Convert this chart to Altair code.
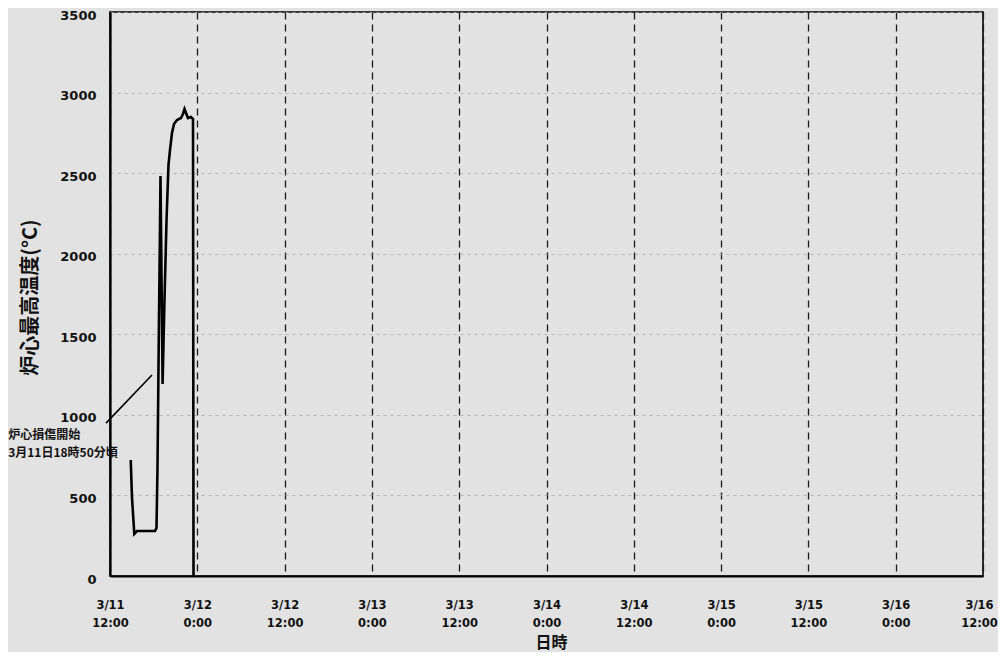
import json
import altair as alt
import pandas as pd

# Hours after 3/11 12:00 and core maximum temperature (°C)
hours = [2.85, 3.02, 3.34, 3.71, 4.95, 6.19, 6.39, 6.53, 6.74, 6.87, 6.94,
         7.23, 7.49, 7.77, 8.04, 8.25, 8.52, 8.80, 9.21, 9.76, 10.03, 10.24,
         10.45, 10.72, 11.13, 11.41, 11.48]
temps = [720, 490, 261, 279, 279, 279, 298, 676, 1632, 2147, 2482,
         1191, 1713, 2209, 2551, 2644, 2749, 2805, 2830, 2842, 2867, 2898,
         2873, 2842, 2848, 2836, 0]

tick_hours = [0, 12, 24, 36, 48, 60, 72, 84, 96, 108, 120]
tick_labels = [["3/11", "12:00"], ["3/12", "0:00"], ["3/12", "12:00"],
               ["3/13", "0:00"], ["3/13", "12:00"], ["3/14", "0:00"],
               ["3/14", "12:00"], ["3/15", "0:00"], ["3/15", "12:00"],
               ["3/16", "0:00"], ["3/16", "12:00"]]
y_ticks = [0, 500, 1000, 1500, 2000, 2500, 3000, 3500]

note_lines = ["炉心損傷開始", "3月11日18時50分頃"]
note_x = [-14.0, -14.0]
note_y = [874, 764]
leader_x = [-0.55, 5.77]
leader_y = [949, 1247]

df = pd.DataFrame({"h": hours, "t": temps})
df_note = pd.DataFrame({"h": note_x, "t": note_y, "txt": note_lines})
df_leader = pd.DataFrame({"h": leader_x, "t": leader_y})

label_expr = json.dumps(tick_labels, ensure_ascii=False) + "[round(datum.value/12)]"

xscale = alt.Scale(domain=[0, 120], nice=False, zero=False)
yscale = alt.Scale(domain=[0, 3500], nice=False)

x_axis = alt.Axis(
    values=tick_hours, labelExpr=label_expr, title="日時",
    grid=True, gridColor="#1a1a1a", gridDash=[7, 5], gridWidth=1.3,
    ticks=False, labelPadding=23, labelLineHeight=18, labelBaseline="top",
    labelFont="DejaVu Sans", labelFontWeight="bold", labelFontSize=11.5,
    labelColor="#111", labelOverlap=False, labelFlush=False,
    labelOffset={"condition": {"test": "datum.value >= 120", "value": -4}, "value": 0},
    domainColor="#000", domainWidth=2,
    titleFont="Noto Sans CJK JP", titleFontSize=16, titleFontWeight="bold",
    titleColor="#111", titleX=441, titleY=66, titleBaseline="middle",
)
y_axis = alt.Axis(
    values=y_ticks, format="d", title="炉心最高温度(°C)",
    grid=True, gridColor="#aaaaaa", gridDash=[3, 4], gridWidth=0.8,
    ticks=False, labelPadding=14, labelOffset=3,
    labelFont="DejaVu Sans", labelFontWeight="bold", labelFontSize=13,
    labelColor="#111", domainColor="#000", domainWidth=2.2,
    titleFont="Noto Sans CJK JP", titleFontSize=20, titleFontWeight="bold",
    titleColor="#111", titleX=-80, titleY=285, titleBaseline="middle",
)

line = alt.Chart(df).mark_line(color="#000", strokeWidth=2.6).encode(
    x=alt.X("h:Q", scale=xscale, axis=x_axis),
    y=alt.Y("t:Q", scale=yscale, axis=y_axis),
    order="h:Q",
)

leader = alt.Chart(df_leader).mark_line(color="#000", strokeWidth=1.6).encode(
    x=alt.X("h:Q", scale=xscale),
    y=alt.Y("t:Q", scale=yscale),
)

note = alt.Chart(df_note).mark_text(
    align="left", baseline="middle", font="Noto Sans CJK JP",
    fontSize=12, fontWeight="bold", color="#111",
).encode(
    x=alt.X("h:Q", scale=xscale),
    y=alt.Y("t:Q", scale=yscale),
    text="txt:N",
)

chart = alt.layer(line, leader, note).properties(
    width=873, height=564,
    autosize=alt.AutoSizeParams(type="none"),
    padding={"left": 102, "top": 4, "right": 15, "bottom": 76},
    background="#e2e2e2",
).configure_view(
    stroke="#000", strokeWidth=1.6, fill="#e2e2e2",
)

chart.save("out.html", embed_options={"renderer": "svg", "actions": False})
